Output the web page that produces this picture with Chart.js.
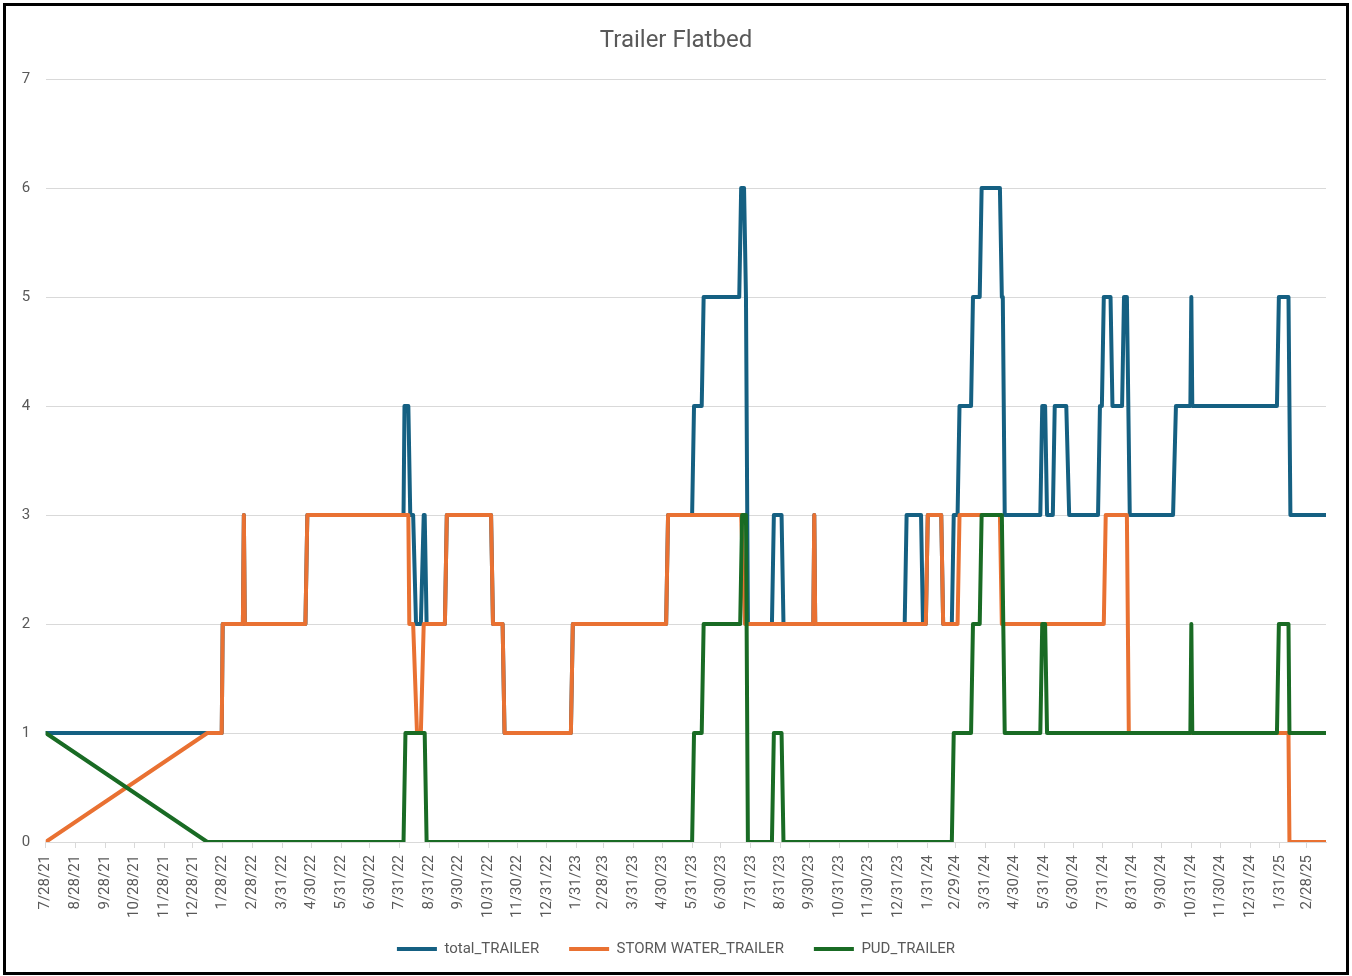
<!DOCTYPE html>
<html>
<head>
<meta charset="utf-8">
<title>Trailer Flatbed</title>
<script src="https://cdn.jsdelivr.net/npm/chart.js@4.4.1/dist/chart.umd.min.js"></script>
<style>
  html, body { margin: 0; padding: 0; background: #fff; }
  #frame { position: absolute; left: 3px; top: 3px; width: 1340px; height: 966px; border: 3px solid #000; }
  canvas { display: block; }
</style>
</head>
<body>
<div id="frame"><canvas id="trailerChart" width="1340" height="966"></canvas></div>
<script>
// tick labels on the date axis (Excel style, one per month)
const tickLabels = ['7/28/21', '8/28/21', '9/28/21', '10/28/21', '11/28/21', '12/28/21',
  '1/28/22', '2/28/22', '3/31/22', '4/30/22', '5/31/22', '6/30/22', '7/31/22', '8/31/22',
  '9/30/22', '10/31/22', '11/30/22', '12/31/22', '1/31/23', '2/28/23', '3/31/23', '4/30/23',
  '5/31/23', '6/30/23', '7/31/23', '8/31/23', '9/30/23', '10/31/23', '11/30/23', '12/31/23',
  '1/31/24', '2/29/24', '3/31/24', '4/30/24', '5/31/24', '6/30/24', '7/31/24', '8/31/24',
  '9/30/24', '10/31/24', '11/30/24', '12/31/24', '1/31/25', '2/28/25'];
const axisEnd = '3/20/25';

// [from, to, count] - the count holds between the two dates
const totalSteps = [
  ['7/28/21', '1/27/22', 1], ['1/28/22', '2/18/22', 2], ['2/19/22', '2/19/22', 3],
  ['2/20/22', '4/24/22', 2], ['4/26/22', '8/4/22', 3], ['8/5/22', '8/9/22', 4],
  ['8/11/22', '8/14/22', 3], ['8/17/22', '8/22/22', 2], ['8/25/22', '8/26/22', 3],
  ['8/28/22', '9/16/22', 2], ['9/18/22', '11/3/22', 3], ['11/5/22', '11/15/22', 2],
  ['11/17/22', '1/25/23', 1], ['1/27/23', '5/4/23', 2], ['5/6/23', '5/31/23', 3],
  ['6/2/23', '6/10/23', 4], ['6/12/23', '7/19/23', 5], ['7/21/23', '7/24/23', 6],
  ['7/26/23', '7/26/23', 5], ['7/28/23', '8/22/23', 2], ['8/24/23', '9/1/23', 3],
  ['9/3/23', '10/4/23', 2], ['10/5/23', '10/5/23', 3], ['10/6/23', '1/7/24', 2],
  ['1/9/24', '1/24/24', 3], ['1/26/24', '1/29/24', 2], ['1/31/24', '2/14/24', 3],
  ['2/16/24', '2/25/24', 2], ['2/27/24', '3/2/24', 3], ['3/4/24', '3/16/24', 4],
  ['3/18/24', '3/25/24', 5], ['3/27/24', '4/15/24', 6], ['4/17/24', '4/18/24', 5],
  ['4/20/24', '5/27/24', 3], ['5/29/24', '6/1/24', 4], ['6/3/24', '6/9/24', 3],
  ['6/11/24', '6/23/24', 4], ['6/26/24', '7/26/24', 3], ['7/28/24', '7/30/24', 4],
  ['8/1/24', '8/8/24', 5], ['8/10/24', '8/20/24', 4], ['8/22/24', '8/25/24', 5],
  ['8/28/24', '10/12/24', 3], ['10/15/24', '10/30/24', 4], ['10/31/24', '10/31/24', 5],
  ['11/1/24', '1/28/25', 4], ['1/30/25', '2/9/25', 5], ['2/11/25', '3/20/25', 3]
];

const stormSteps = [
  ['7/28/21', '7/28/21', 0], ['1/12/22', '1/27/22', 1], ['1/28/22', '2/18/22', 2],
  ['2/19/22', '2/19/22', 3], ['2/20/22', '4/24/22', 2], ['4/26/22', '8/9/22', 3],
  ['8/10/22', '8/14/22', 2], ['8/18/22', '8/22/22', 1], ['8/25/22', '9/16/22', 2],
  ['9/18/22', '11/3/22', 3], ['11/5/22', '11/15/22', 2], ['11/17/22', '1/25/23', 1],
  ['1/27/23', '5/4/23', 2], ['5/6/23', '7/21/23', 3], ['7/25/23', '10/4/23', 2],
  ['10/5/23', '10/5/23', 3], ['10/6/23', '1/29/24', 2], ['1/31/24', '2/14/24', 3],
  ['2/16/24', '3/2/24', 2], ['3/4/24', '4/15/24', 3], ['4/17/24', '8/1/24', 2],
  ['8/3/24', '8/25/24', 3], ['8/27/24', '2/9/25', 1], ['2/10/25', '3/20/25', 0]
];

const pudSteps = [
  ['7/28/21', '7/28/21', 1], ['1/12/22', '8/4/22', 0], ['8/6/22', '8/26/22', 1],
  ['8/28/22', '5/31/23', 0], ['6/2/23', '6/10/23', 1], ['6/12/23', '7/20/23', 2],
  ['7/22/23', '7/26/23', 3], ['7/28/23', '8/22/23', 0], ['8/24/23', '9/1/23', 1],
  ['9/3/23', '2/25/24', 0], ['2/27/24', '3/16/24', 1], ['3/18/24', '3/25/24', 2],
  ['3/27/24', '4/17/24', 3], ['4/20/24', '5/27/24', 1], ['5/29/24', '6/1/24', 2],
  ['6/3/24', '10/30/24', 1], ['10/31/24', '10/31/24', 2], ['11/1/24', '1/28/25', 1],
  ['1/30/25', '2/9/25', 2], ['2/10/25', '3/20/25', 1]
];

// days since the first date, so the x axis is a plain linear scale
const startUTC = Date.UTC(2021, 6, 28);
function day(label) {
  const [m, d, y] = label.split('/').map(Number);
  return (Date.UTC(2000 + y, m - 1, d) - startUTC) / 86400000;
}

function toPoints(steps) {
  const pts = [];
  steps.forEach(([from, to, v]) => {
    pts.push({ x: day(from), y: v });
    if (to !== from) pts.push({ x: day(to), y: v });
  });
  return pts;
}

function series(label, steps, color, order) {
  return {
    label: label,
    data: toPoints(steps),
    borderColor: color,
    backgroundColor: color,
    pointBorderColor: color,
    pointBackgroundColor: color,
    pointBorderWidth: 4,
    borderWidth: 4,
    order: order
  };
}

Chart.defaults.font.family = 'Roboto, "Liberation Sans", sans-serif';
Chart.defaults.font.size = 15;
Chart.defaults.color = '#595959';

const ctx = document.getElementById('trailerChart').getContext('2d');

new Chart(ctx, {
  type: 'line',
  data: {
    datasets: [
      series('total_TRAILER', totalSteps, '#156082', 3),
      series('STORM WATER_TRAILER', stormSteps, '#E97132', 2),
      series('PUD_TRAILER', pudSteps, '#196B24', 1)
    ]
  },
  options: {
    responsive: false,
    animation: false,
    layout: { padding: { left: 10, right: 10, top: 0, bottom: 5.5 } },
    elements: {
      line: { tension: 0, borderJoinStyle: 'round', borderCapStyle: 'round' },
      point: { radius: 0, hoverRadius: 0 }
    },
    scales: {
      x: {
        type: 'linear',
        min: 0,
        max: day(axisEnd),
        afterBuildTicks: scale => {
          scale.ticks = tickLabels.map(t => ({ value: day(t) }));
        },
        afterFit: scale => {
          scale.height = 69.5;
          // long rotated labels run into the legend band, as in Excel
          scale._computeLabelArea = () => null;
        },
        grid: { drawOnChartArea: false, drawTicks: true, tickLength: 6, color: '#d9d9d9' },
        border: { color: '#d9d9d9' },
        ticks: {
          autoSkip: false,
          minRotation: 90,
          maxRotation: 90,
          padding: 7,
          callback: (value, index) => tickLabels[index]
        }
      },
      y: {
        min: 0,
        max: 7,
        afterFit: scale => { scale.width = 29.7; },
        grid: { color: '#d9d9d9', drawTicks: false },
        border: { display: false },
        ticks: { stepSize: 1, padding: 15.4 }
      },
      // empty right-hand gutter so the plot ends short of the frame
      gutter: {
        position: 'right',
        display: true,
        afterFit: scale => { scale.width = 10; },
        grid: { display: false, drawTicks: false },
        border: { display: false },
        ticks: { display: false }
      }
    },
    plugins: {
      title: {
        display: true,
        text: 'Trailer Flatbed',
        color: '#595959',
        font: { size: 24, weight: 'normal' },
        padding: { top: 20.6, bottom: 23.6 }
      },
      legend: {
        position: 'bottom',
        reverse: true,
        labels: {
          usePointStyle: true,
          pointStyle: 'line',
          pointStyleWidth: 40,
          padding: 30,
          color: '#595959'
        }
      },
      tooltip: { enabled: false }
    }
  }
});
</script>
</body>
</html>
